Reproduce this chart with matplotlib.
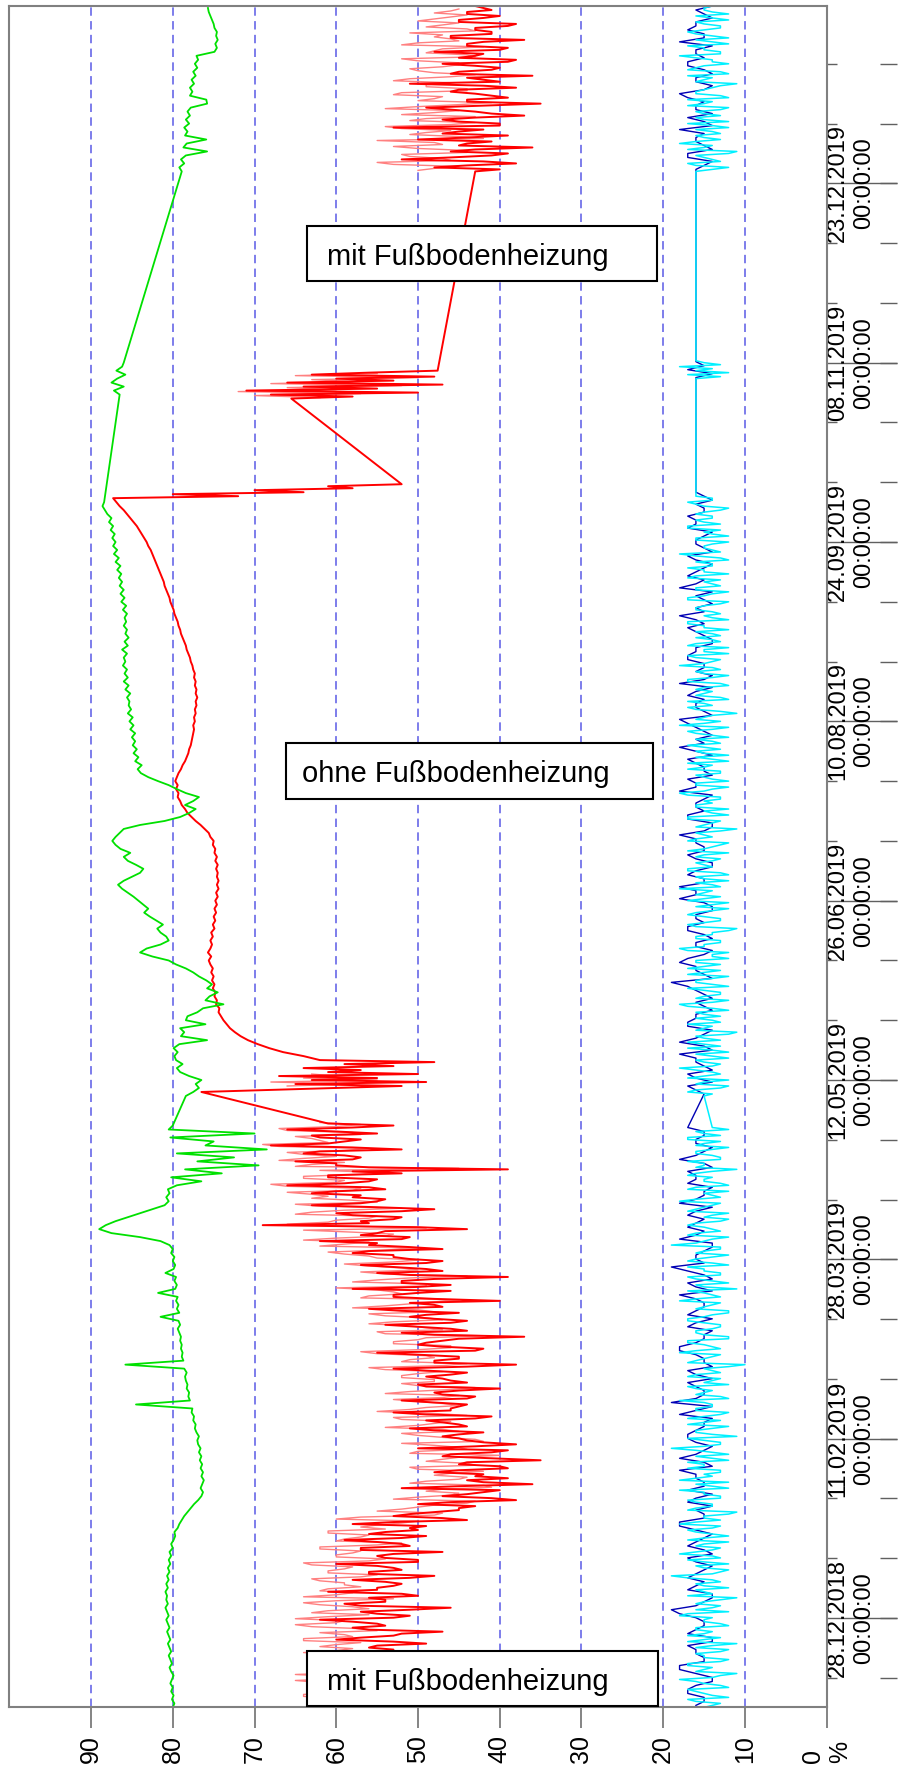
import numpy as np
import matplotlib.pyplot as plt
import matplotlib.dates as mdates
from matplotlib.patches import Rectangle
from matplotlib.ticker import FixedLocator, NullLocator

plt.rcParams['font.family'] = ['Liberation Sans', 'DejaVu Sans']

# %% data: relative humidity in %, one value per step (days) from a start date
# "_b" lists are the readings half a step later
green_winter = [80.0, 79.8, 80.1, 79.9, 80.2, 80.0, 80.3, 80.1, 79.9, 80.2, 80.4, 80.1, 80.3, 80.5, 80.2, 80.4, 80.6, 80.3, 80.5, 80.7, 80.4, 80.6,
                80.8, 80.5, 80.7, 80.9, 80.6, 80.8, 80.7, 80.9, 80.6, 80.8, 80.5, 80.7, 80.4, 80.6, 80.3, 80.5, 80.2, 80.4, 80.0, 80.2,
                79.9, 79.7, 79.8, 79.4, 79.2, 78.9, 78.6, 78.2, 77.8, 77.4,
                76.9, 76.5, 76.3, 76.6, 76.4, 76.2, 76.5, 76.3, 76.6, 76.4, 76.7, 76.5, 76.8, 76.6, 76.9, 77.0, 76.8, 77.1, 77.3, 77.2,
                77.5, 77.4, 77.7, 77.6, 84.5, 77.9, 78.1, 78.0, 78.3, 78.2, 78.4, 78.5, 78.3, 78.6, 85.8, 78.7, 78.9, 78.8, 79.0, 78.9,
                79.1, 79.0, 79.2, 79.4, 79.1, 79.3, 81.5, 79.2, 79.5, 79.3, 79.6, 79.4, 81.8, 79.7, 79.5, 79.8, 79.6, 80.9, 79.9, 79.7, 80.0, 79.8, 80.2, 80.0, 80.4,
                81.5, 84.0, 87.5, 89.0, 88.2, 87.0, 85.5, 84.0, 82.5, 81.0, 80.5, 80.8, 80.4,
                80.6, 79.5, 76.5, 80.2, 74.0, 78.5, 69.5, 77.0, 72.5, 79.5, 68.5, 76.0, 75.0, 80.3, 70.0, 80.5, 80.0]
green_summer = [78.4, 77.5, 76.8, 77.2, 76.5, 78.0, 79.1, 79.5, 78.8, 79.6,
                79.8, 79.4, 79.9, 79.2, 75.8, 79.0, 78.6, 79.1, 76.0, 78.4,
                78.2, 77.0, 76.3, 73.8, 76.0, 75.5, 74.5, 75.8, 75.2, 75.9,
                76.8, 77.5, 78.4, 79.6, 80.5, 82.5, 84.0, 83.2, 81.5, 80.5,
                80.8, 81.5, 81.9, 81.2, 82.0, 82.8, 83.5, 83.0, 83.6, 84.2,
                84.8, 85.5, 86.2, 86.7, 86.0, 85.0, 84.0, 83.6, 84.5, 85.5,
                86.0, 85.2, 86.4, 87.0, 87.4, 87.0, 86.5, 86.0, 84.0, 81.0,
                79.1, 78.0, 77.2, 78.5, 77.5, 76.8, 78.4, 79.5, 80.5, 81.8,
                83.0, 83.9, 84.3, 83.8, 84.6, 84.2, 84.8, 84.4, 84.9, 84.6,
                85.0, 84.6, 85.2, 84.8, 85.3, 84.9, 85.5, 85.1, 85.4, 85.3,
                85.6, 85.2, 85.8, 85.4, 86.0, 85.5, 85.9, 85.6, 86.1, 85.8,
                86.0, 85.6, 86.2, 85.5, 85.9, 85.4, 85.8, 85.6, 86.0, 85.7,
                85.9, 85.6, 86.1, 85.7, 86.3, 85.9, 86.4, 86.0, 86.5, 86.2,
                86.6, 86.3, 86.8, 86.4, 87.0, 86.6, 87.2, 86.8, 87.3, 87.0,
                87.4, 87.1, 87.6, 87.3, 87.8, 87.5, 88.0, 88.3, 88.6, 88.4]
green_nov = [86.5, 87.2, 86.0, 87.5, 86.8, 85.8, 86.9, 86.2, 86.0]
green_top = [78.9, 79.2, 78.6, 79.0, 78.4, 75.8, 78.7, 78.3, 75.9, 78.5,
             78.2, 78.6, 78.0, 78.4, 77.9, 78.2, 77.8, 75.8, 75.9, 77.9,
             77.6, 77.9, 77.4, 77.7, 77.2, 77.5, 77.0, 77.3, 76.9, 77.1,
             74.9, 74.6, 74.8, 74.5, 74.7, 74.6, 74.9, 75.0, 75.2, 75.4, 75.6, 75.7]

red_winter = [50, 57, 52, 60, 54, 49, 58, 53, 61, 55, 48, 57, 52, 59, 54,
              56, 49, 60, 53, 47, 58, 55, 62, 51, 57, 46, 59, 54, 50, 61, 55,
              52, 58, 48, 56, 53, 60, 50, 55, 47, 57, 52, 59, 49, 54,
              51, 58, 44, 53, 48,
              45, 50, 38, 47, 42, 52, 36, 44,
              43, 48, 39, 45, 35, 47, 41, 50, 38, 44,
              47, 42, 51, 45, 49, 41, 53, 46, 44, 52, 43, 48, 40, 50, 46,
              49, 44, 53, 38, 48, 45, 55, 42, 50, 47, 37, 52, 46, 54, 44,
              51, 45, 56, 48, 40, 53, 50, 58, 46, 52, 39, 55, 49, 57, 47,
              53, 58, 47, 56, 62, 51, 55, 44, 69, 57, 52, 60, 48, 63, 55,
              58, 63, 54, 66, 56, 61, 52, 39, 60, 65,
              57, 64, 52, 68, 59, 62, 55, 66, 53]
red_winter_b = [54, 56, 53, 57, 55, 52, 56, 54, 58, 53, 55, 57, 54, 56, 53,
                55, 53, 57, 52, 56, 54, 58, 53, 55, 51, 57, 54, 56, 52, 55, 53,
                54, 51, 56, 52, 55, 50, 54, 53, 57, 51, 55, 52, 56, 50,
                49, 53, 47, 51, 45,
                43, 46, 41, 44, 40, 45, 42, 39,
                42, 45, 40, 44, 41, 46, 39, 43, 42, 45,
                45, 48, 44, 47, 43, 49, 46, 45, 48, 44, 47, 45, 49, 44, 47,
                46, 49, 44, 48, 45, 50, 43, 47, 49, 45, 48, 44, 50, 46, 48,
                49, 52, 47, 51, 48, 53, 46, 50, 52, 48, 51, 47, 53, 49, 51,
                53, 56, 51, 55, 52, 57, 54, 50, 56, 53, 58, 52, 55, 57, 54,
                57, 60, 56, 59, 55, 61, 58, 56, 60, 58,
                59, 62, 58, 61, 57, 63, 60, 58, 61]
red_may_jump = [76.5]
red_may = [60, 52, 65, 49, 63, 55, 67, 50, 61, 57, 64, 53, 59, 48, 62]
red_summer = [64.0, 66.5, 68.2, 69.6, 70.8, 71.7, 72.4, 73.0, 73.4, 73.8,
              74.1, 74.4, 74.3, 74.7, 74.6, 74.9, 74.8, 75.1, 74.9, 75.2,
              75.0, 75.3, 75.1, 75.4, 75.6, 75.3, 75.7, 75.4, 75.2, 75.4,
              75.1, 75.3, 74.9, 75.1, 74.8, 75.0, 74.7, 74.9, 74.6, 74.8,
              74.5, 74.7, 74.4, 74.6, 74.4, 74.6, 74.5, 74.7, 74.5, 74.8,
              74.6, 74.9, 74.8, 75.1, 75.0, 75.4, 75.6, 76.1, 76.6, 77.2,
              77.7, 78.2, 78.5, 78.9, 79.1, 79.4, 79.3, 79.6, 79.4, 79.7,
              79.5, 79.3, 79.0, 78.8, 78.5, 78.3, 78.1, 78.0, 77.8, 77.7,
              77.6, 77.5, 77.4, 77.5, 77.3, 77.4, 77.2, 77.3, 77.1, 77.2,
              77.0, 77.2, 77.1, 77.3, 77.2, 77.4, 77.3, 77.5, 77.6, 77.8,
              77.9, 78.1, 78.3, 78.4, 78.6, 78.8, 79.0, 79.1, 79.3, 79.4,
              79.6, 79.8, 79.9, 80.1, 80.3, 80.4, 80.6, 80.8, 81.0, 81.1,
              81.3, 81.5, 81.7, 81.9, 82.1, 82.3, 82.5, 82.7, 83.0, 83.2,
              83.5, 83.8, 84.1, 84.4, 84.8, 85.2, 85.6, 86.0, 86.5, 86.9,
              87.3]
red_drop = [72, 80, 64, 70, 58, 61, 52]
red_nov = [65.5, 58, 68, 50, 71, 55, 64, 47, 66, 53, 60, 48, 63, 56, 47.6]
red_top = [43, 48, 38, 52, 41, 46, 36, 44, 50, 39, 45, 53, 40, 47, 37, 43, 49, 35, 44, 41,
           46, 38, 51, 42, 36, 45, 40, 47, 38, 43, 48, 39, 44, 37, 46, 41, 43, 38, 45, 40, 44, 42]
red_top_b = [40, 44, 42, 46, 39, 43, 45, 41, 44, 47, 42, 40, 45, 43, 41, 46, 42, 44, 39, 43,
             45, 42, 40, 44, 46, 41, 43, 39, 45, 42, 40, 44, 42, 46, 41, 43, 39, 45, 42, 44, 41, 43]

pink_winter = [58, 63, 56, 64, 60, 55, 62, 59, 65, 57, 61, 54, 63, 58, 60,
               62, 57, 64, 59, 55, 63, 60, 65, 56, 61, 58, 64, 53, 60, 62, 57,
               59, 63, 55, 61, 58, 64, 54, 60, 57, 62, 52, 59, 56, 61,
               57, 52, 60, 48, 55,
               50, 44, 53, 46, 49, 41, 51, 45,
               48, 42, 51, 44, 47, 40, 50, 45, 52, 43,
               50, 45, 54, 48, 52, 44, 55, 49, 47, 53, 45, 51, 43, 52, 48,
               52, 47, 56, 44, 51, 49, 57, 46, 53, 50, 42, 55, 49, 56, 47,
               54, 48, 58, 51, 45, 56, 53, 60, 49, 55, 44, 57, 52, 59, 50,
               56, 61, 50, 59, 64, 54, 58, 49, 66, 60, 55, 63, 52, 65, 58,
               61, 66, 57, 68, 59, 64, 55, 45, 63, 67,
               60, 66, 56, 69, 62, 65, 58, 67, 57]
pink_winter_b = [61, 57, 64, 59, 62, 56, 65, 60, 58, 63, 57, 62, 59, 64, 58,
                 60, 64, 58, 62, 57, 65, 59, 61, 63, 56, 62, 60, 64, 58, 61, 59,
                 62, 57, 61, 59, 63, 56, 60, 58, 62, 55, 60, 57, 61, 54,
                 55, 50, 57, 47, 52,
                 48, 43, 50, 45, 47, 42, 49, 44,
                 46, 50, 43, 49, 45, 51, 44, 48, 42, 47,
                 52, 47, 50, 46, 53, 48, 51, 45, 50, 47, 54, 46, 50, 48, 52,
                 50, 54, 47, 52, 48, 55, 50, 46, 53, 49, 54, 47, 51, 53, 49,
                 56, 50, 54, 48, 57, 52, 55, 49, 58, 51, 54, 50, 56, 53, 55,
                 59, 54, 62, 56, 60, 53, 64, 58, 61, 56, 65, 59, 62, 55, 63,
                 63, 58, 66, 60, 64, 57, 62, 65, 59, 64,
                 64, 59, 67, 61, 63, 57, 66, 60, 62]
pink_may = [66, 58, 68, 55, 64, 60, 63]
pink_nov = [62, 70, 57, 72, 60, 66, 52, 68, 58, 63, 50, 65, 55]
pink_top = [50, 45, 55, 47, 52, 44, 53, 48, 42, 51, 46, 54, 43, 49, 52, 45, 50, 41, 48, 53,
            44, 49, 46, 51, 43, 50, 47, 45, 52, 44, 48, 42, 50, 46, 47, 43, 49, 45, 48, 44, 46]
pink_top_b = [48, 53, 46, 51, 44, 50, 47, 55, 45, 49, 52, 46, 51, 43, 48, 54, 45, 50, 47, 52,
              44, 49, 53, 46, 48, 51, 45, 50, 43, 49, 47, 52, 45, 48, 51, 44, 47, 50, 46, 48, 45]

cyan_winter = [15, 13, 17, 14, 16, 12, 15, 18, 13, 16, 14, 17, 12, 15, 13, 16, 11, 15, 17, 14,
               16, 13, 15, 18, 12, 14, 16, 13, 17, 15, 12, 16, 14, 19, 13, 15, 12, 17, 14, 16,
               13, 15, 17, 12, 16, 14, 18, 13, 15, 11, 16, 14, 17, 13, 15, 12, 16, 18, 14, 13,
               17, 15, 12, 16, 14, 19, 13, 15, 11, 16, 14, 17, 13, 15, 12, 16, 14, 18, 13, 15,
               16, 12, 14, 17, 13, 15, 10, 16, 14, 18, 13, 15, 17, 12, 16, 14, 13, 17, 15, 12,
               16, 14, 18, 13, 15, 11, 16, 14, 17, 13, 15, 12, 17, 14, 16, 13, 19, 15, 12, 16,
               14, 17, 13, 15, 12, 16, 14, 18, 13, 15, 17, 12, 15, 14, 16, 11, 15, 17, 13, 16,
               14, 16, 13, 17, 15, 12]
cyan_winter_b = [14, 16, 12, 15, 17, 13, 16, 14, 11, 15, 17, 13, 15, 16, 12, 14, 17, 13, 15, 16,
                 12, 15, 14, 17, 16, 13, 15, 11, 14, 16, 15, 13, 17, 14, 12, 16, 15, 13, 18, 14,
                 16, 12, 15, 14, 17, 13, 16, 15, 12, 17, 14, 16, 13, 15, 18, 14, 12, 16, 15, 13,
                 15, 17, 14, 12, 16, 15, 13, 17, 14, 16, 12, 15, 17, 13, 16, 14, 15, 12, 16, 14,
                 17, 15, 13, 16, 14, 12, 17, 15, 13, 16, 14, 17, 12, 15, 16, 13, 15, 17, 14, 12,
                 15, 13, 16, 14, 17, 15, 12, 16, 13, 15, 17, 14, 16, 12, 15, 13, 16, 14, 17, 13,
                 15, 16, 12, 14, 17, 15, 13, 16, 14, 12, 16, 13, 15, 17, 14, 16, 15, 13, 14, 16,
                 12, 15, 17, 13, 16, 14]
cyan_summer = [15, 17, 13, 16, 12, 15, 14, 18, 13, 16, 14, 12, 17, 15, 13, 16, 11, 15, 17, 14,
               13, 16, 14, 18, 12, 15, 13, 17, 14, 16, 12, 15, 17, 13, 16, 14, 12, 18, 15, 13,
               16, 14, 11, 17, 13, 15, 16, 12, 14, 17, 13, 15, 18, 14, 12, 16, 13, 17, 15, 14,
               16, 12, 15, 13, 17, 14, 16, 11, 15, 13, 17, 14, 12, 16, 15, 13, 18, 14, 16, 12,
               15, 13, 17, 14, 12, 16, 15, 13, 17, 14, 12, 16, 14, 18, 13, 15, 11, 16, 14, 17,
               13, 15, 16, 12, 17, 14, 15, 13, 18, 14, 16, 12, 15, 17, 13, 16, 14, 12, 15, 17,
               14, 13, 16, 15, 12, 17, 14, 16, 13, 15, 17, 12, 15, 14, 16, 13, 18, 14, 15, 12,
               16, 14, 13, 17, 15, 14, 16, 13, 15, 17, 14]
cyan_summer_b = [14, 16, 12, 15, 17, 13, 16, 14, 15, 12, 16, 14, 13, 17, 15, 12, 16, 14, 13, 16,
                 15, 12, 17, 14, 16, 13, 15, 12, 16, 14, 17, 13, 15, 16, 12, 14, 17, 15, 13, 16,
                 14, 12, 16, 15, 13, 17, 14, 16, 12, 15, 16, 14, 13, 16, 15, 12, 17, 14, 16, 13,
                 15, 17, 14, 12, 16, 15, 13, 16, 14, 17, 12, 15, 16, 14, 13, 17, 15, 12, 16, 14,
                 16, 13, 15, 17, 14, 12, 16, 15, 13, 16, 14, 17, 12, 15, 16, 14, 13, 17, 15, 12,
                 16, 14, 15, 13, 17, 12, 16, 14, 15, 13, 17, 15, 12, 16, 14, 13, 16, 15, 17, 12,
                 15, 14, 16, 13, 17, 15, 12, 16, 14, 13, 16, 15, 17, 14, 12, 16, 13, 15, 14, 16,
                 12, 15, 17, 13, 16, 14, 15, 12, 16, 14, 16]
cyan_nov = [16, 13, 17, 12, 16, 14, 18, 13, 15, 16]
cyan_top = [16, 12, 17, 14, 16, 11, 15, 18, 13, 16, 14, 12, 17, 15, 13, 16, 12, 15, 17, 13,
            16, 14, 11, 15, 17, 13, 16, 12, 14, 18, 13, 15, 12, 16, 14, 17, 13, 15, 12, 16, 14, 15]
cyan_top_b = [14, 16, 13, 15, 12, 17, 14, 16, 15, 13, 16, 14, 12, 16, 15, 13, 17, 14, 12, 16,
              15, 13, 16, 14, 12, 17, 15, 14, 16, 13, 15, 17, 14, 12, 16, 15, 13, 16, 14, 12, 15, 14]

blue_winter = [16, 15, 17, 14, 16, 18, 15, 16, 14, 17, 15, 16, 19, 15, 14, 16, 17, 15, 16, 14,
               17, 15, 16, 18, 15, 14, 16, 17, 15, 16, 14, 18, 15, 16, 17, 15, 14, 16, 19, 15,
               16, 14, 17, 15, 16, 18, 15, 14, 16, 17, 15, 16, 14, 17, 15, 19, 16, 15, 14, 16,
               17, 15, 16, 18, 15, 14, 16, 17, 15, 16, 14, 16, 15]
blue_winter_b = [15, 17, 16, 14, 18, 15, 16, 17, 14, 16, 15, 18, 16, 14, 17, 15, 16, 14, 17, 15,
                 16, 14, 18, 15, 16, 17, 14, 15, 16, 18, 15, 16, 14, 17, 16, 15, 18, 14, 16, 15,
                 17, 16, 14, 15, 18, 16, 15, 17, 14, 16, 15, 18, 16, 14, 17, 15, 16, 14, 18, 15,
                 16, 17, 14, 16, 15, 17, 16, 14, 18, 15, 16, 15, 17]
blue_summer = [15, 17, 16, 14, 16, 18, 15, 16, 14, 17, 16, 15, 14, 16, 19, 15, 16, 17, 14, 16,
               15, 17, 16, 14, 15, 16, 18, 15, 16, 14, 17, 15, 16, 15, 14, 17, 16, 15, 18, 16,
               14, 15, 17, 16, 15, 14, 16, 18, 15, 16, 17, 14, 15, 16, 15, 17, 16, 14, 16, 15,
               18, 16, 15, 14, 16, 17, 15, 16, 14, 16, 15, 17, 16, 15, 16, 15]
blue_summer_b = [16, 14, 17, 15, 16, 14, 18, 15, 17, 16, 14, 16, 15, 17, 14, 16, 18, 15, 16, 14,
                 17, 15, 16, 14, 18, 16, 15, 17, 14, 16, 15, 16, 18, 14, 17, 15, 16, 14, 16, 17,
                 15, 16, 14, 18, 16, 15, 17, 14, 16, 15, 16, 18, 14, 15, 17, 16, 14, 15, 17, 16,
                 15, 14, 16, 18, 15, 16, 14, 17, 15, 16, 14, 16, 17, 15, 14, 16]
blue_nov = [16, 14, 17, 15, 16]
blue_top = [16, 14, 17, 15, 16, 18, 15, 14, 16, 17, 15, 16, 14, 17, 15, 16, 18, 15, 16, 14, 16]
blue_top_b = [15, 17, 14, 16, 15, 14, 17, 16, 15, 18, 14, 16, 15, 17, 16, 14, 15, 17, 16, 15, 14]


def mix(a, b):
    return list(np.column_stack((a, b)).ravel())


# segments: (start, step in days, values)
green = [('2018-12-05 14:00', 1, green_winter), ('2019-05-08', 1, green_summer),
         ('2019-10-31', 1, green_nov), ('2019-12-26', 1, green_top)]
red = [('2018-12-05 14:00', 0.5, mix(red_winter, red_winter_b)), ('2019-05-09', 1, red_may_jump),
       ('2019-05-10', 0.5, red_may), ('2019-05-18', 1, red_summer), ('2019-10-05 12:00', 0.5, red_drop),
       ('2019-10-30', 0.5, red_nov), ('2019-12-26', 0.5, mix(red_top, red_top_b))]
pink = [('2018-12-05 20:00', 0.5, mix(pink_winter, pink_winter_b)), ('2019-05-10 12:00', 0.5, pink_may),
        ('2019-10-30 06:00', 0.5, pink_nov), ('2019-12-26 06:00', 0.5, mix(pink_top, pink_top_b))]
cyan = [('2018-12-05 14:00', 0.5, mix(cyan_winter, cyan_winter_b)), ('2019-05-08', 0.5, mix(cyan_summer, cyan_summer_b)),
        ('2019-11-04', 0.5, cyan_nov), ('2019-12-26', 0.5, mix(cyan_top, cyan_top_b))]
blue = [('2018-12-06 02:00', 1, mix(blue_winter, blue_winter_b)), ('2019-05-08 12:00', 1, mix(blue_summer, blue_summer_b)),
        ('2019-11-04 06:00', 1, blue_nov), ('2019-12-26 12:00', 1, mix(blue_top, blue_top_b))]

pct_ticks = [0, 10, 20, 30, 40, 50, 60, 70, 80, 90]
pct_labels = ['0\n%', '10', '20', '30', '40', '50', '60', '70', '80', '90']
first_tick = '2018-12-28'


def series(segments, gaps=False):
    t, v = [], []
    for start, step, vals in segments:
        t += list(mdates.datestr2num(start) + step * np.arange(len(vals)))
        v += list(vals)
        if gaps:
            t.append(np.nan)
            v.append(np.nan)
    return np.array(t), np.array(v)


# %% figure
W, H = 902, 1771
fig = plt.figure(figsize=(W / 100, H / 100), dpi=100)
ax = fig.add_axes([9.3 / W, 1 - 1707.3 / H, 817.4 / W, 1701.3 / H])

for segs, col, lw, gaps in [(blue, '#0000b4', 1.0, False), (cyan, '#00f0ff', 1.1, False),
                            (pink, '#ff8080', 1.0, True), (red, '#ff0000', 1.4, False),
                            (green, '#00e000', 1.3, False)]:
    t, v = series(segs, gaps)
    ax.plot(v, t, color=col, lw=lw)

t0 = mdates.datestr2num(first_tick)
ax.set_ylim(mdates.datestr2num('2018-12-05 14:24'), mdates.datestr2num('2020-02-05 12:00'))
ax.set_xlim(100, 0)

# percent axis (bottom)
ax.set_xticks(pct_ticks, pct_labels)
ax.tick_params(axis='x', length=15, width=1.2, color='#707070', pad=25, labelsize=18)
for lab in ax.get_xticklabels():
    lab.set(rotation=90, rotation_mode='anchor', ha='left', va='center', multialignment='left')
ax.xaxis.grid(True, linestyle=(0, (5.5, 3.5)), color='#5a5ae6', linewidth=1.1)
ax.set_axisbelow(True)

# date axis (right)
ax.yaxis.tick_right()
ax.yaxis.set_major_locator(FixedLocator(t0 + 45 * np.arange(9)))
ax.yaxis.set_minor_locator(FixedLocator(t0 + 15 * np.arange(-1, 27)))
ax.yaxis.set_major_formatter(mdates.DateFormatter('%d.%m.%Y\n%H:%M:%S'))
ax.tick_params(axis='y', which='major', direction='out', length=50.4, width=1, color='#606060',
               pad=-50, labelsize=17)
ax.tick_params(axis='y', which='minor', direction='out', length=7, width=1, color='#606060')
for lab in ax.get_yticklabels():
    lab.set(rotation=90, ha='left', va='center', multialignment='center')

sec = ax.secondary_yaxis(1 + 70 / 817.4)
sec.yaxis.set_major_locator(NullLocator())
sec.yaxis.set_minor_locator(FixedLocator(t0 + 15 * np.arange(-1, 27)))
sec.tick_params(which='minor', direction='in', length=12, width=1, color='#606060')
for s in sec.spines.values():
    s.set_visible(False)

for s in ax.spines.values():
    s.set_color('#808080')
    s.set_linewidth(1.5)

# annotation boxes (pixel positions)
for (x0, y0, x1, y1, tx), txt in [((306.7, 226, 657.3, 281, 327), 'mit Fußbodenheizung'),
                                  ((285.6, 743, 652.5, 799, 302.5), 'ohne Fußbodenheizung'),
                                  ((307, 1651, 658, 1706, 327), 'mit Fußbodenheizung')]:
    fig.add_artist(Rectangle((x0 / W, 1 - y1 / H), (x1 - x0) / W, (y1 - y0) / H,
                             transform=fig.transFigure, facecolor='white', edgecolor='black', lw=1.5, zorder=5))
    fig.text(tx / W, 1 - (y0 + 39) / H, txt, fontsize=21, va='baseline', ha='left', zorder=6)

fig.savefig('out.png', dpi=100)
